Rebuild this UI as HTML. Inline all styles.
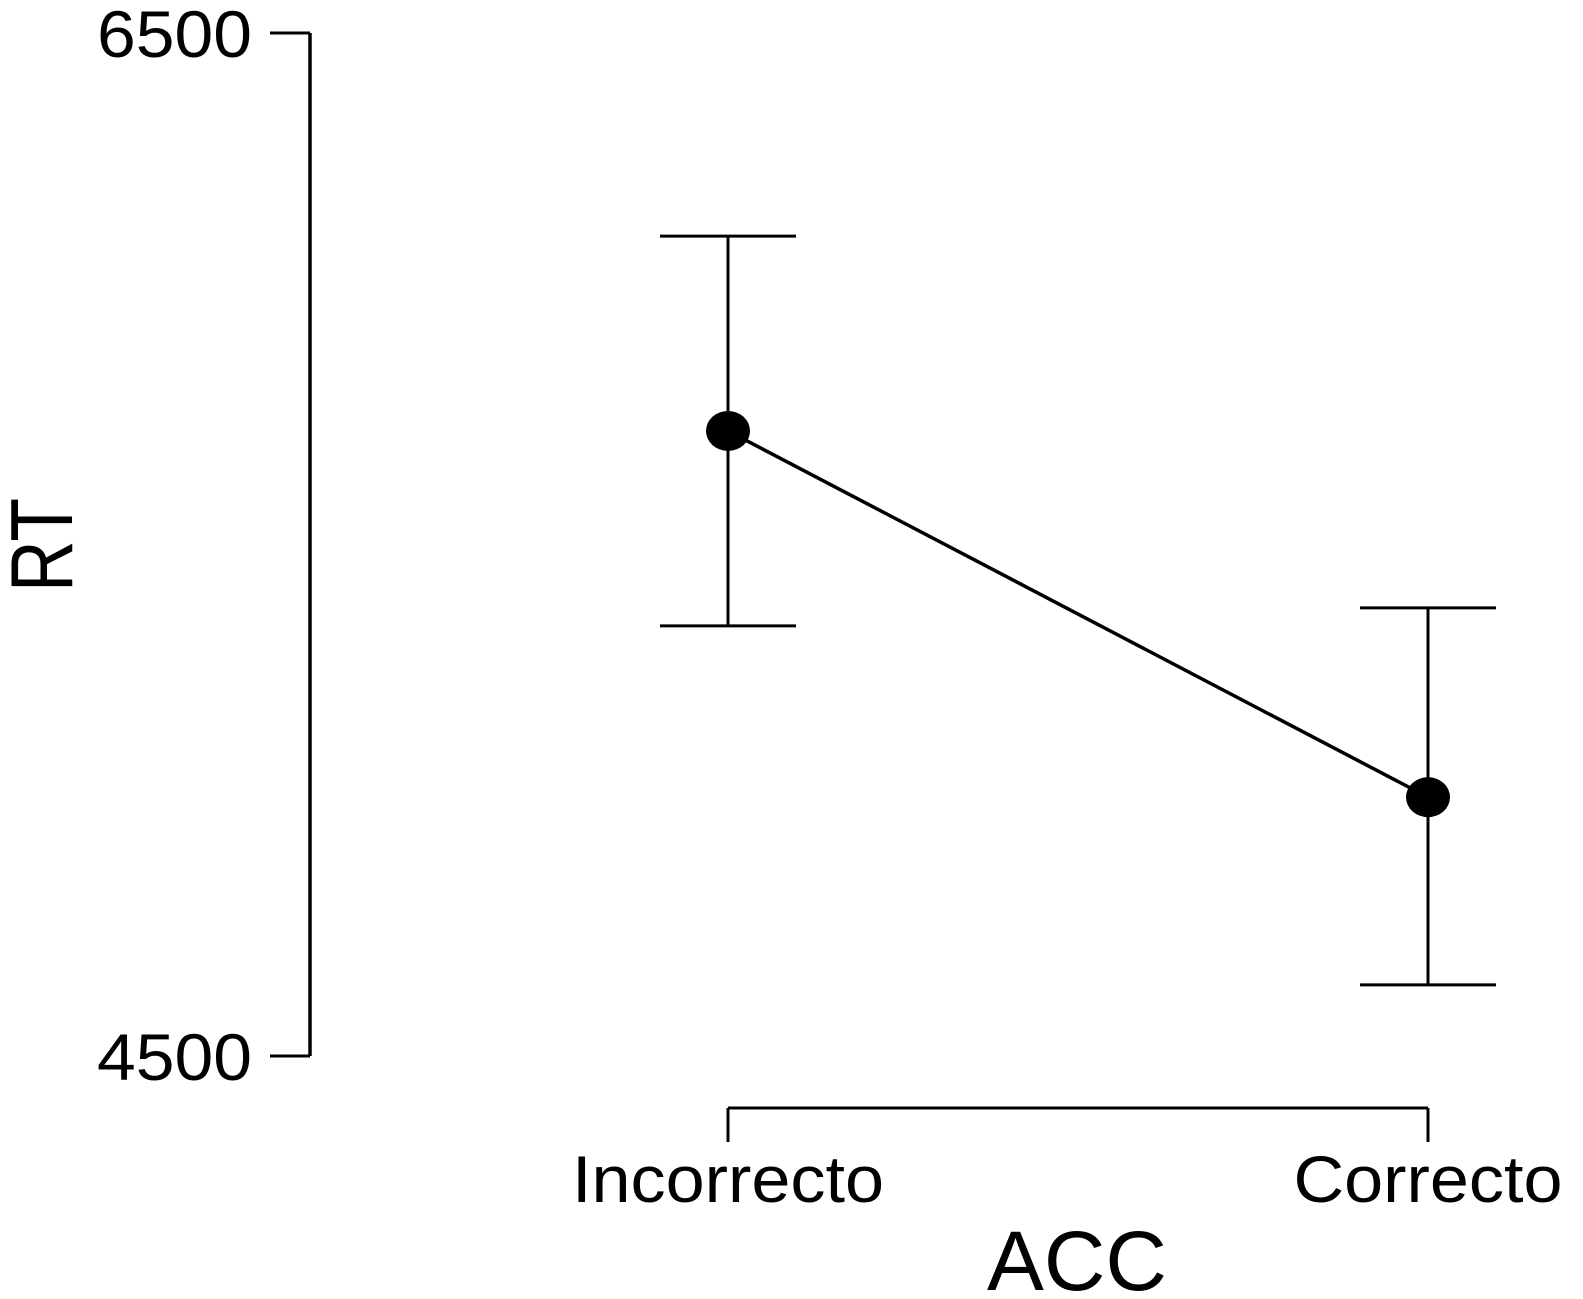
<!DOCTYPE html>
<html><head><meta charset="utf-8"><style>
html,body{margin:0;padding:0;background:#fff}
svg{display:block}
text{font-family:"Liberation Sans",sans-serif;fill:#000}
</style></head><body>
<svg id="chart" width="1583" height="1299" xmlns="http://www.w3.org/2000/svg"></svg>
<script>
const categories = ["Incorrecto", "Correcto"];
const means = [5722, 5006];
const upper = [6103, 5376];
const lower = [5341, 4639];
const yTicks = [4500, 6500];

const NS = "http://www.w3.org/2000/svg";
const svg = document.getElementById("chart");
const y = v => 1056 + (v - 4500) * (33 - 1056) / 2000;
const x = i => 728 + i * 700;
function mk(tag, attrs, parent) {
  const e = document.createElementNS(NS, tag);
  for (const k in attrs) e.setAttribute(k, attrs[k]);
  (parent || svg).appendChild(e);
  return e;
}
// y axis
const yAxis = mk("g", {});


mk("line", {x1: 310, x2: 310, y1: y(yTicks[0]), y2: y(yTicks[yTicks.length - 1]), stroke: "#000", "stroke-width": 3.5}, yAxis);
yTicks.forEach(t => {
  mk("line", {x1: 270, x2: 310, y1: y(t), y2: y(t), stroke: "#000", "stroke-width": 3}, yAxis);
  const tx = mk("text", {x: 252, y: y(t) + 24, "text-anchor": "end", "font-size": 66, textLength: 155, lengthAdjust: "spacingAndGlyphs"}, yAxis);
  tx.textContent = t;
  
  
});
// x axis
const xAxis = mk("g", {});


mk("line", {x1: x(0), x2: x(categories.length - 1), y1: 1108, y2: 1108, stroke: "#000", "stroke-width": 3}, xAxis);
const catW = [312, 269];
categories.forEach((c, i) => {
  mk("line", {x1: x(i), x2: x(i), y1: 1108, y2: 1142, stroke: "#000", "stroke-width": 3}, xAxis);
  const tx = mk("text", {x: x(i), y: 1202, "text-anchor": "middle", "font-size": 66, textLength: catW[i], lengthAdjust: "spacingAndGlyphs"}, xAxis);
  tx.textContent = c;
  
  
});
const xt = mk("text", {x: 1077, y: 1290, "text-anchor": "middle", "font-size": 84, textLength: 180, lengthAdjust: "spacingAndGlyphs"});
xt.textContent = "ACC";


const yt = mk("text", {x: 0, y: 0, transform: "translate(72,545) rotate(-90)", "text-anchor": "middle", "font-size": 88, textLength: 94, lengthAdjust: "spacingAndGlyphs"});
yt.textContent = "RT";


// error bars
categories.forEach((c, i) => {
  const g = mk("g", {stroke: "#000", "stroke-width": 3});
  
  
  mk("line", {x1: x(i), x2: x(i), y1: y(upper[i]), y2: y(lower[i])}, g);
  mk("line", {x1: x(i) - 68, x2: x(i) + 68, y1: y(upper[i]), y2: y(upper[i])}, g);
  mk("line", {x1: x(i) - 68, x2: x(i) + 68, y1: y(lower[i]), y2: y(lower[i])}, g);
});
// line
const pl = mk("polyline", {points: means.map((m, i) => x(i) + "," + y(m)).join(" "), fill: "none", stroke: "#000", "stroke-width": 3.5});


means.forEach((m, i) => {
  const p = mk("ellipse", {cx: x(i), cy: y(m), rx: 22, ry: 20, fill: "#000"});
  
  
});
</script>
</body></html>
